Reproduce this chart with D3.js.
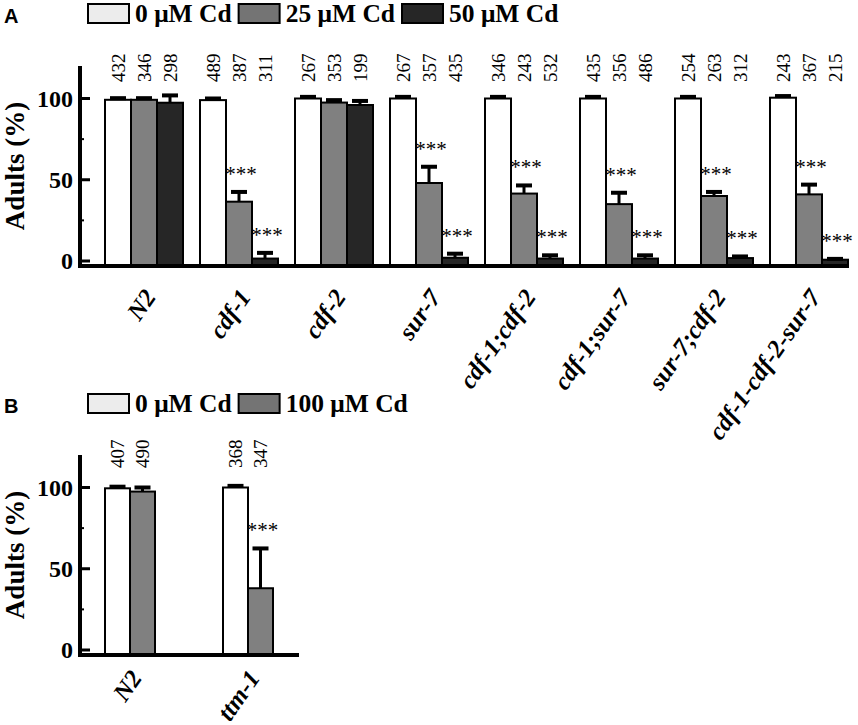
<!DOCTYPE html>
<html><head><meta charset="utf-8">
<script src="https://cdn.jsdelivr.net/npm/d3@7"></script>
<style>
html,body{margin:0;padding:0;background:#fff;}
svg{display:block;}
</style>
</head><body>
<svg id="chart" width="858" height="725"></svg>
<script>
// ---------- DATA ----------
const groupsA = ["N2","cdf-1","cdf-2","sur-7","cdf-1;cdf-2","cdf-1;sur-7","sur-7;cdf-2","cdf-1-cdf-2-sur-7"];
const seriesA = ["0 \u03BCM Cd","25 \u03BCM Cd","50 \u03BCM Cd"];
const meanA0  = [99.2, 99, 100, 100, 100, 100, 100, 100.5];
const errA0   = [1, 1, 1, 1, 1, 1, 1, 1];
const meanA25 = [99.2, 36.5, 97.5, 48, 41.5, 35, 40, 41];
const errA25  = [1, 6, 1.5, 10, 5, 7, 2.5, 6];
const meanA50 = [97.4, 1.5, 96, 2, 1.5, 1.5, 1.8, 0.8];
const errA50  = [4.5, 3.5, 2.5, 2.5, 2, 2, 1, 0.5];
const nA0  = [432, 489, 267, 267, 346, 435, 254, 243];
const nA25 = [346, 387, 353, 357, 243, 356, 263, 367];
const nA50 = [298, 311, 199, 435, 532, 486, 312, 215];
const sigA25 = ["", "***", "", "***", "***", "***", "***", "***"];
const sigA50 = ["", "***", "", "***", "***", "***", "***", "***"];

const groupsB = ["N2","ttm-1"];
const seriesB = ["0 \u03BCM Cd","100 \u03BCM Cd"];
const meanB0   = [99.5, 100];
const errB0    = [1, 1];
const meanB100 = [97.5, 38];
const errB100  = [2.5, 24.5];
const nB0   = [407, 368];
const nB100 = [490, 347];
const sigB100 = ["", "***"];

const yTicks = [0, 50, 100];
const yMinorTicks = [25, 75];

// ---------- STYLE ----------
const barFills = ["#ffffff", "#808080", "#262626"];
const legendFills = ["#ececec", "#747474", "#262626"];
const serif = "'Liberation Serif','Times New Roman',Times,serif";
const sans = "'Liberation Sans',Arial,sans-serif";

const svg = d3.select("#chart");

function panel(cfg) {
  const g = svg.append("g");
  const nS = cfg.series.length;
  const y = d3.scaleLinear().domain([0, 120]).range([cfg.y0, cfg.y0 - 120 * 1.625]);
  const x = d3.scaleBand().domain(cfg.groups)
    .range([cfg.xStart, cfg.xStart + (cfg.groups.length - cfg.padIn) * cfg.step])
    .paddingInner(cfg.padIn).paddingOuter(0);
  const xs = d3.scaleBand().domain(d3.range(nS)).range([0, x.bandwidth()]);

  const rows = [];
  cfg.groups.forEach((grp, i) => {
    cfg.means.forEach((m, s) => {
      rows.push({grp, s, v: m[i], e: cfg.errs[s][i], n: cfg.ns[s][i], sig: cfg.sigs[s] ? cfg.sigs[s][i] : ""});
    });
  });

  // bars
  g.selectAll("rect.bar").data(rows).join("rect")
    .attr("class", "bar")
    .attr("x", d => x(d.grp) + xs(d.s))
    .attr("width", xs.bandwidth())
    .attr("y", d => y(d.v))
    .attr("height", d => cfg.base - y(d.v))
    .attr("fill", d => cfg.fills[d.s])
    .attr("stroke", "#000").attr("stroke-width", 2);

  // error bars
  const cx = d => x(d.grp) + xs(d.s) + xs.bandwidth() / 2;
  g.selectAll("line.err").data(rows).join("line")
    .attr("x1", cx).attr("x2", cx)
    .attr("y1", d => y(d.v)).attr("y2", d => y(d.v + d.e))
    .attr("stroke", "#000").attr("stroke-width", 3);
  g.selectAll("rect.cap").data(rows).join("rect")
    .attr("x", d => cx(d) - 8).attr("width", 16)
    .attr("y", d => y(d.v + d.e) - 2).attr("height", 4)
    .attr("fill", "#000");

  // significance stars
  g.selectAll("text.sig").data(rows.filter(d => d.sig)).join("text")
    .attr("x", d => cx(d) + 2)
    .attr("y", d => y(d.v + d.e) - 11)
    .attr("text-anchor", "middle")
    .attr("font-family", serif).attr("font-size", 21)
    .text(d => d.sig);

  // n labels
  g.selectAll("text.n").data(rows).join("text")
    .attr("transform", d => `translate(${cx(d)},${cfg.nY}) rotate(-90)`)
    .attr("dy", "0.35em")
    .attr("font-family", serif).attr("font-size", 19)
    .text(d => d.n);

  // axes
  g.append("line").attr("x1", cfg.axX).attr("x2", cfg.axX)
    .attr("y1", y(120)).attr("y2", cfg.base + 2)
    .attr("stroke", "#000").attr("stroke-width", 4);
  g.append("line").attr("x1", cfg.axX - 2).attr("x2", cfg.xEnd)
    .attr("y1", cfg.base).attr("y2", cfg.base)
    .attr("stroke", "#000").attr("stroke-width", 4);
  g.selectAll("line.tick").data(yTicks).join("line")
    .attr("x1", cfg.axX).attr("x2", cfg.axX + 10)
    .attr("y1", d => y(d)).attr("y2", d => y(d))
    .attr("stroke", "#000").attr("stroke-width", 3);
  g.selectAll("line.mtick").data(yMinorTicks).join("line")
    .attr("x1", cfg.axX).attr("x2", cfg.axX + 4)
    .attr("y1", d => y(d)).attr("y2", d => y(d))
    .attr("stroke", "#000").attr("stroke-width", 2);
  g.selectAll("text.tl").data(yTicks).join("text")
    .attr("x", cfg.axX - 7).attr("y", d => y(d)).attr("dy", "0.35em")
    .attr("text-anchor", "end")
    .attr("font-family", serif).attr("font-weight", "bold").attr("font-size", 24)
    .text(d => d);

  // y label
  g.append("text")
    .attr("transform", `translate(${cfg.ylabX},${cfg.ylabY}) rotate(-90)`)
    .attr("text-anchor", "middle").attr("dy", "0.35em")
    .attr("font-family", serif).attr("font-weight", "bold").attr("font-size", 27)
    .text("Adults (%)");

  // x labels
  g.selectAll("text.xl").data(cfg.groups).join("text")
    .attr("transform", d => `translate(${x(d) + x.bandwidth() / 2 + 13},${cfg.xlabY}) rotate(-55)`)
    .attr("text-anchor", "end")
    .attr("font-family", serif).attr("font-weight", "bold").attr("font-style", "italic")
    .attr("font-size", 25)
    .text(d => d);

  // panel letter
  g.append("text").attr("x", 4).attr("y", cfg.legY + 1)
    .attr("font-family", sans).attr("font-weight", "bold").attr("font-size", 20)
    .text(cfg.letter);

  // legend
  let lx = 88;
  cfg.series.forEach((s, i) => {
    g.append("rect").attr("x", lx).attr("y", cfg.legY - 18).attr("width", 41).attr("height", 19)
      .attr("fill", legendFills[i]).attr("stroke", "#000").attr("stroke-width", 2);
    const t = g.append("text").attr("x", lx + 47).attr("y", cfg.legY)
      .attr("font-family", serif).attr("font-weight", "bold").attr("font-size", 25.5)
      .text(s);
    lx = lx + 47 + t.node().getComputedTextLength() + 7;
  });
}

panel({
  letter: "A", groups: groupsA, series: seriesA,
  means: [meanA0, meanA25, meanA50], errs: [errA0, errA25, errA50],
  ns: [nA0, nA25, nA50], sigs: [null, sigA25, sigA50],
  fills: barFills,
  y0: 261, base: 266, axX: 80, xEnd: 849,
  xStart: 105, step: 95, padIn: 17 / 95,
  nY: 82, xlabY: 297, ylabX: 15, ylabY: 166, legY: 22
});

panel({
  letter: "B", groups: groupsB, series: seriesB,
  means: [meanB0, meanB100], errs: [errB0, errB100],
  ns: [nB0, nB100], sigs: [null, sigB100],
  fills: [barFills[0], barFills[1]],
  y0: 650, base: 655, axX: 80, xEnd: 299,
  xStart: 105, step: 118, padIn: 68 / 118,
  nY: 468, xlabY: 678, ylabX: 15, ylabY: 555, legY: 412
});
</script>
</body></html>
